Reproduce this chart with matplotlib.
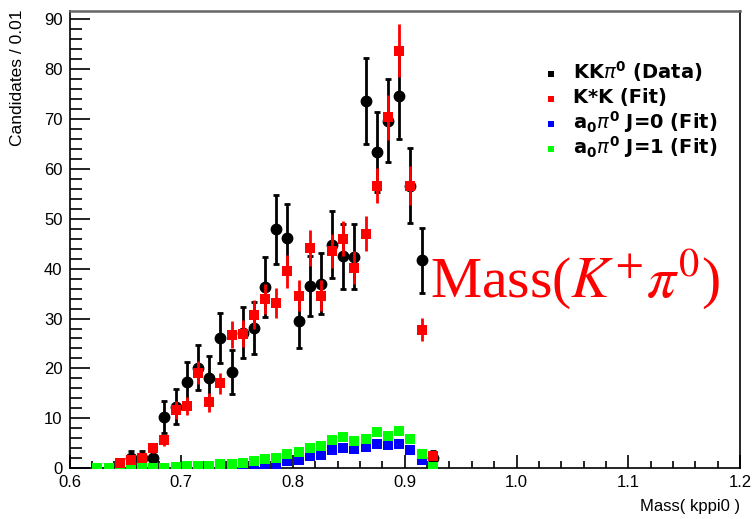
import matplotlib
matplotlib.use("Agg")
import matplotlib.pyplot as plt
from matplotlib.lines import Line2D
from matplotlib.ticker import MultipleLocator, FormatStrFormatter

# ---- data ----
data_x = [0.655, 0.665, 0.675, 0.685, 0.695, 0.705, 0.715, 0.725, 0.735, 0.745,
          0.755, 0.765, 0.775, 0.785, 0.795, 0.805, 0.815, 0.825, 0.835, 0.845,
          0.855, 0.865, 0.875, 0.885, 0.895, 0.905, 0.915, 0.925]
data_y = [2.0, 2.0, 2.0, 10.3, 12.3, 17.2, 20.1, 18.1, 26.1, 19.2,
          27.2, 28.1, 36.3, 47.9, 46.2, 29.5, 36.5, 37.0, 44.8, 42.5,
          42.4, 73.6, 63.3, 69.6, 74.6, 56.6, 41.7, 2.0]
data_err = [1.4, 1.4, 1.4, 3.2, 3.5, 4.1, 4.5, 4.3, 5.1, 4.4,
            5.2, 5.3, 6.0, 6.9, 6.8, 5.4, 6.0, 6.1, 6.7, 6.5,
            6.5, 8.6, 8.0, 8.3, 8.6, 7.5, 6.5, 1.4]

kstar_x = [0.645, 0.655, 0.665, 0.675, 0.685, 0.695, 0.705, 0.715, 0.725, 0.735,
           0.745, 0.755, 0.765, 0.775, 0.785, 0.795, 0.805, 0.815, 0.825, 0.835,
           0.845, 0.855, 0.865, 0.875, 0.885, 0.895, 0.905, 0.915, 0.925]
kstar_y = [1.0, 1.6, 2.1, 4.1, 5.6, 11.6, 12.5, 19.1, 13.2, 17.0,
           26.8, 27.0, 30.8, 34.0, 33.2, 39.5, 34.6, 44.1, 34.6, 43.5,
           46.0, 40.2, 47.0, 56.6, 70.3, 83.6, 56.6, 27.8, 2.5]
kstar_err = [0.5, 0.6, 0.7, 1.0, 1.2, 1.8, 1.8, 2.3, 1.9, 2.1,
             2.7, 2.7, 2.9, 3.0, 3.0, 3.3, 3.1, 3.6, 3.1, 3.4,
             3.5, 3.3, 3.5, 3.5, 4.5, 5.3, 3.9, 2.4, 0.8]

a0_x = [0.625, 0.635, 0.645, 0.655, 0.665, 0.675, 0.685, 0.695, 0.705, 0.715,
        0.725, 0.735, 0.745, 0.755, 0.765, 0.775, 0.785, 0.795, 0.805, 0.815,
        0.825, 0.835, 0.845, 0.855, 0.865, 0.875, 0.885, 0.895, 0.905, 0.915, 0.925]
a0_j0_y = [0.0, 0.0, 0.0, 0.0, 0.0, 0.0, 0.0, 0.0, 0.0, 0.0,
           0.0, 0.1, 0.2, 0.3, 0.5, 0.6, 0.9, 1.5, 1.7, 2.5,
           2.6, 3.6, 4.1, 3.8, 4.3, 4.9, 4.7, 4.9, 3.6, 1.6, 0.3]
a0_j1_y = [0.1, 0.1, 0.1, 0.1, 0.1, 0.1, 0.1, 0.3, 0.4, 0.5,
           0.5, 0.8, 0.9, 1.1, 1.4, 1.8, 2.1, 2.8, 3.3, 4.1,
           4.4, 5.6, 6.3, 5.5, 5.9, 7.2, 6.5, 7.5, 5.8, 2.9, 0.2]

legend_labels = [r"KK$\pi^{\mathbf{0}}$ (Data)", "K*K (Fit)",
                 r"a$_{\mathbf{0}}\pi^{\mathbf{0}}$ J=0 (Fit)",
                 r"a$_{\mathbf{0}}\pi^{\mathbf{0}}$ J=1 (Fit)"]
legend_colors = ["black", "#ff0000", "#0000ff", "#00ff00"]

W, H = 753, 519
fig = plt.figure(figsize=(W / 100, H / 100), dpi=100)
L, R, T, B = 69.5, 740, 11, 468.3
ax = fig.add_axes([L / W, (H - B) / H, (R - L) / W, (B - T) / H])

ax.errorbar(data_x, data_y, yerr=data_err, fmt="o", color="black", ms=7.5,
            elinewidth=2, capsize=2.5, capthick=2, zorder=3)
ax.plot(a0_x, a0_j0_y, "s", color="#0000ff", ms=7.5, mew=0, zorder=4)
ax.plot(a0_x, a0_j1_y, "s", color="#00ff00", ms=7.5, mew=0, zorder=5)
ax.errorbar(kstar_x, kstar_y, yerr=kstar_err, fmt="s", color="#ff0000", ms=7.5,
            mew=0, elinewidth=2, capsize=0, zorder=6)

ax.set_xlim(0.6, 1.2)
ax.set_ylim(0, 91.6)
ax.xaxis.set_major_locator(MultipleLocator(0.1))
ax.xaxis.set_minor_locator(MultipleLocator(0.02))
ax.yaxis.set_major_locator(MultipleLocator(10))
ax.yaxis.set_minor_locator(MultipleLocator(2))
ax.xaxis.set_major_formatter(FormatStrFormatter("%.1f"))
ax.yaxis.set_major_formatter(FormatStrFormatter("%d"))

ax.tick_params(axis="x", which="major", direction="in", length=9.4, width=1.2, pad=5)
ax.tick_params(axis="x", which="minor", direction="in", length=5, width=1.2)
ax.tick_params(axis="y", which="major", direction="in", length=14.4, width=1.2, pad=5)
ax.tick_params(axis="y", which="minor", direction="in", length=8.6, width=1.2)
for lab in ax.get_xticklabels() + ax.get_yticklabels():
    lab.set_fontfamily("Liberation Sans")
    lab.set_fontsize(12)

ax.spines["top"].set_color("#666666")
ax.spines["top"].set_linewidth(1.8)
for s in ["left", "bottom", "right"]:
    ax.spines[s].set_color("black")
    ax.spines[s].set_linewidth(1.2)

fig.text(740 / W, 1 - 506 / H, "Mass( kppi0 )", ha="right", va="center",
         family="Liberation Sans", fontsize=12)
fig.text(18 / W, 1 - 10 / H, "Candidates / 0.01", ha="center", va="top",
         rotation=90, family="Liberation Sans", fontsize=12.5)

# legend
for i, (lab, col) in enumerate(zip(legend_labels, legend_colors)):
    base = 78.3 + 25.2 * i
    fig.add_artist(Line2D([551 / W], [1 - (base - 4.5) / H], marker="s", color=col,
                          ms=5, mew=0, linestyle="none", transform=fig.transFigure))
    fig.text(573 / W, 1 - base / H, lab, ha="left", va="baseline",
             family="DejaVu Sans", fontweight="bold", fontsize=14,
             math_fontfamily="dejavusans")

fig.text(430 / W, 1 - 298 / H, r"Mass($K^{+}\pi^{0}$)", ha="left", va="baseline",
         color="#ff0000", family="Liberation Serif", fontsize=41.5,
         math_fontfamily="stix")

fig.savefig("out.png", dpi=100)
